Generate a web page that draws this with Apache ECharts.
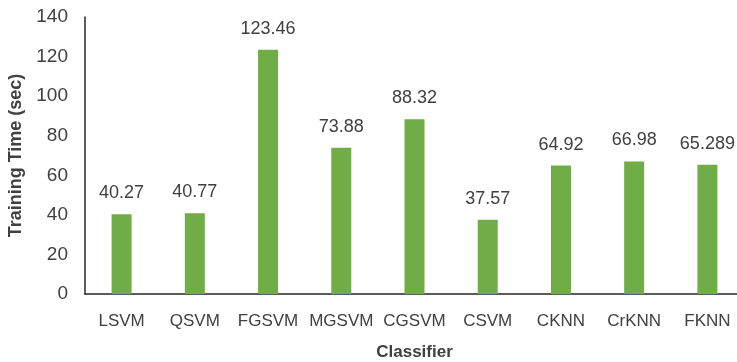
<!DOCTYPE html>
<html>
<head>
<meta charset="utf-8">
<script src="https://cdn.jsdelivr.net/npm/echarts@6/dist/echarts.min.js"></script>
<style>
  html, body { margin: 0; padding: 0; background: #ffffff; }
  #chart { width: 737px; height: 362px; }
</style>
</head>
<body>
<div id="chart"></div>
<script>
// Classifiers compared and their training time in seconds
const classifiers = ['LSVM', 'QSVM', 'FGSVM', 'MGSVM', 'CGSVM', 'CSVM', 'CKNN', 'CrKNN', 'FKNN'];
const trainingTime = [40.27, 40.77, 123.46, 73.88, 88.32, 37.57, 64.92, 66.98, 65.289];
const yTicks = [0, 20, 40, 60, 80, 100, 120, 140];

const textColor = '#404040';
const fontFamily = '"Liberation Sans", Arial, sans-serif';

const chart = echarts.init(document.getElementById('chart'), null, { renderer: 'canvas' });
chart.setOption({
  animation: false,
  backgroundColor: '#ffffff',
  grid: {
    left: 85, top: 17, width: 659, height: 277,
    containLabel: false,
    outerBoundsMode: 'none'
  },
  xAxis: {
    type: 'category',
    data: classifiers,
    name: 'Classifier',
    nameLocation: 'middle',
    nameGap: 50,
    nameTextStyle: { color: textColor, fontSize: 17, fontWeight: 'bold', fontFamily: fontFamily },
    axisLine: { lineStyle: { color: '#262626', width: 1.5 } },
    axisTick: { show: false },
    axisLabel: { color: textColor, fontSize: 17, margin: 19, interval: 0, fontFamily: fontFamily }
  },
  yAxis: {
    type: 'value',
    min: yTicks[0],
    max: yTicks[yTicks.length - 1],
    interval: yTicks[1] - yTicks[0],
    name: 'Training Time (sec)',
    nameLocation: 'middle',
    nameGap: 53,
    nameTextStyle: { color: textColor, fontSize: 18, fontWeight: 'bold', fontFamily: fontFamily },
    axisLine: { show: true, lineStyle: { color: '#262626', width: 1.5 } },
    axisTick: { show: false },
    splitLine: { show: false },
    axisLabel: { color: textColor, fontSize: 19, margin: 17, fontFamily: fontFamily }
  },
  series: [{
    type: 'bar',
    data: trainingTime,
    barWidth: 20,
    itemStyle: { color: '#70AD47' },
    label: {
      show: true,
      position: 'top',
      distance: 12,
      color: textColor,
      fontSize: 18,
      fontFamily: fontFamily,
      formatter: (p) => String(p.value)
    }
  }]
});
</script>
</body>
</html>
